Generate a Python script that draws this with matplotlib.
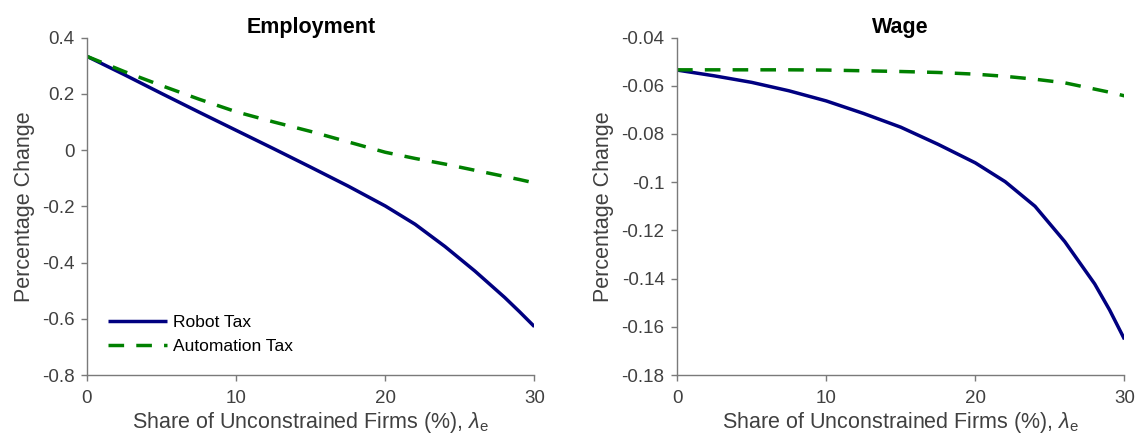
import matplotlib
matplotlib.use("Agg")
import matplotlib.pyplot as plt

plt.rcParams["font.family"] = ["Liberation Sans", "DejaVu Sans"]
plt.rcParams["mathtext.fontset"] = "custom"
plt.rcParams["mathtext.rm"] = "Liberation Sans"
plt.rcParams["mathtext.it"] = "Liberation Sans:italic"

# share of unconstrained firms (%)
share = [0, 2.5, 5, 7.5, 10, 12.5, 15, 17.5, 20, 22, 24, 26, 28, 29, 30]

# employment response (percentage change)
emp_robot = [0.333, 0.268, 0.201, 0.135, 0.070, 0.005, -0.061, -0.128,
             -0.199, -0.264, -0.343, -0.430, -0.524, -0.575, -0.628]
emp_automation = [0.333, 0.279, 0.229, 0.181, 0.136, 0.100, 0.066, 0.029,
                  -0.008, -0.030, -0.050, -0.072, -0.094, -0.105, -0.117]

# wage response (percentage change)
wage_robot = [-0.0535, -0.0559, -0.0586, -0.0621, -0.0663, -0.0715, -0.0772,
              -0.0843, -0.0920, -0.0998, -0.1100, -0.1247, -0.1422, -0.1530,
              -0.1652]
wage_automation = [-0.0534, -0.0534, -0.0534, -0.0534, -0.0535, -0.0538, -0.0541,
                   -0.0545, -0.0552, -0.0561, -0.0573, -0.0588, -0.0614, -0.0627,
                   -0.0642]

x_ticks = [0, 10, 20, 30]
emp_ticks = [-0.8, -0.6, -0.4, -0.2, 0, 0.2, 0.4]
wage_ticks = [-0.18, -0.16, -0.14, -0.12, -0.1, -0.08, -0.06, -0.04]

panels = [
    ("Employment", emp_robot, emp_automation, emp_ticks),
    ("Wage", wage_robot, wage_automation, wage_ticks),
]

navy = "#000080"
green = "#008000"
axis_grey = "#7a7a7a"
text_grey = "#404040"

fig = plt.figure(figsize=(11.4, 4.44), dpi=100)
lefts = [0.0763, 0.5939]

for left, (title, robot, automation, yticks) in zip(lefts, panels):
    ax = fig.add_axes([left, 0.1554, 0.3925, 0.7601])

    ax.plot(share, robot, color=navy, lw=2.5, solid_capstyle="butt",
            solid_joinstyle="round", label="Robot Tax")
    ax.plot(share, automation, color=green, lw=2.5, linestyle=(0, (4.5, 3.5)),
            dash_capstyle="butt", label="Automation Tax")

    ax.set_xlim(0, 30)
    ax.set_ylim(yticks[0], yticks[-1])
    ax.set_xticks(x_ticks)
    ax.set_xticklabels([str(t) for t in x_ticks])
    ax.set_yticks(yticks)
    ax.set_yticklabels([f"{t:g}" for t in yticks])

    for side in ["top", "right"]:
        ax.spines[side].set_visible(False)
    for side in ["left", "bottom"]:
        ax.spines[side].set_color(axis_grey)
        ax.spines[side].set_linewidth(1.0)

    ax.tick_params(axis="both", direction="out", length=4, width=1.0,
                   color=axis_grey, labelcolor=text_grey, labelsize=13.5)
    ax.tick_params(axis="x", pad=7)
    ax.tick_params(axis="y", pad=5)

    ax.set_title(title, fontsize=15.5, fontweight="bold", pad=3.5)
    ax.set_xlabel(r"Share of Unconstrained Firms (%), $\lambda_\mathrm{e}$",
                  fontsize=15.5, color=text_grey, labelpad=2)
    ax.set_ylabel("Percentage Change", fontsize=15.5, color=text_grey,
                  labelpad=5)

    if title == "Employment":
        ax.legend(loc="lower left", bbox_to_anchor=(0.047, 0.062),
                  frameon=False, fontsize=12.5, handlelength=3.4,
                  handletextpad=0.35, labelspacing=0.5, borderpad=0,
                  borderaxespad=0)

fig.savefig("out.png", dpi=100)
